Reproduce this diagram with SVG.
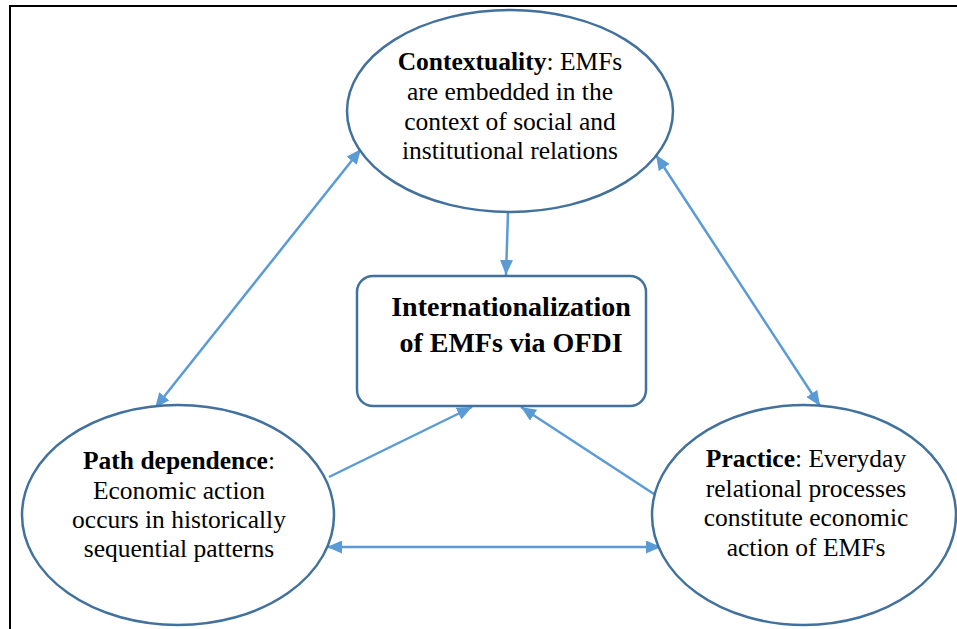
<svg xmlns="http://www.w3.org/2000/svg" width="957" height="629" viewBox="0 0 957 629">
  <style>
    .node { fill: #ffffff; stroke: #41719C; stroke-width: 2.5; }
    .lbl { font-size: 25.5px; fill: #000000; text-anchor: middle; }
    .title { font-size: 28px; font-weight: bold; fill: #000000; text-anchor: middle; }
    .b { font-weight: bold; }
    .link { fill: none; stroke: #5B9BD5; stroke-width: 2.5; }
  </style>
  <defs>
    <!-- filled triangular arrowhead shared by all connectors -->
    <marker id="head" viewBox="0 0 15 13" refX="15" refY="6.5" markerWidth="15" markerHeight="13" markerUnits="userSpaceOnUse" orient="auto-start-reverse">
      <path d="M0,0 L15,6.5 L0,13 Z" fill="#5B9BD5"/>
    </marker>
  </defs>

  <!-- outer frame -->
  <path d="M10,629 V6 H957" fill="none" stroke="#000000" stroke-width="2"/>

  <!-- connectors -->
  <g id="connectors">
    <line class="link" x1="508" y1="212" x2="506" y2="275" marker-end="url(#head)"/>
    <line class="link" x1="329" y1="477" x2="472" y2="407" marker-end="url(#head)"/>
    <line class="link" x1="657" y1="496" x2="521" y2="407" marker-end="url(#head)"/>
    <line class="link" x1="327" y1="547" x2="661" y2="547" marker-start="url(#head)" marker-end="url(#head)"/>
    <line class="link" x1="155" y1="408" x2="361" y2="149" marker-start="url(#head)" marker-end="url(#head)"/>
    <line class="link" x1="656" y1="155" x2="820" y2="406" marker-start="url(#head)" marker-end="url(#head)"/>
  </g>

  <g font-family="'Liberation Serif', 'Times New Roman', serif">
    <g id="contextuality">
      <ellipse class="node" cx="510" cy="111" rx="163" ry="101"/>
      <text class="lbl" x="510" y="70"><tspan class="b">Contextuality</tspan>: EMFs</text>
      <text class="lbl" x="510" y="100">are embedded in the</text>
      <text class="lbl" x="510" y="129.5">context of social and</text>
      <text class="lbl" x="510" y="159">institutional relations</text>
    </g>

    <g id="internationalization">
      <rect class="node" x="357" y="276" width="289" height="130" rx="16" ry="16"/>
      <text class="title" x="511" y="316">Internationalization</text>
      <text class="title" x="511" y="352">of EMFs via OFDI</text>
    </g>

    <g id="path-dependence">
      <ellipse class="node" cx="178" cy="515" rx="156" ry="110"/>
      <text class="lbl" x="179" y="469"><tspan class="b">Path dependence</tspan>:</text>
      <text class="lbl" x="179" y="498.5">Economic action</text>
      <text class="lbl" x="179" y="527.5">occurs in historically</text>
      <text class="lbl" x="179" y="557">sequential patterns</text>
    </g>

    <g id="practice">
      <ellipse class="node" cx="804" cy="515" rx="152" ry="110"/>
      <text class="lbl" x="806" y="467"><tspan class="b">Practice</tspan>: Everyday</text>
      <text class="lbl" x="806" y="496.5">relational processes</text>
      <text class="lbl" x="806" y="526">constitute economic</text>
      <text class="lbl" x="806" y="555.5">action of EMFs</text>
    </g>
  </g>
</svg>
